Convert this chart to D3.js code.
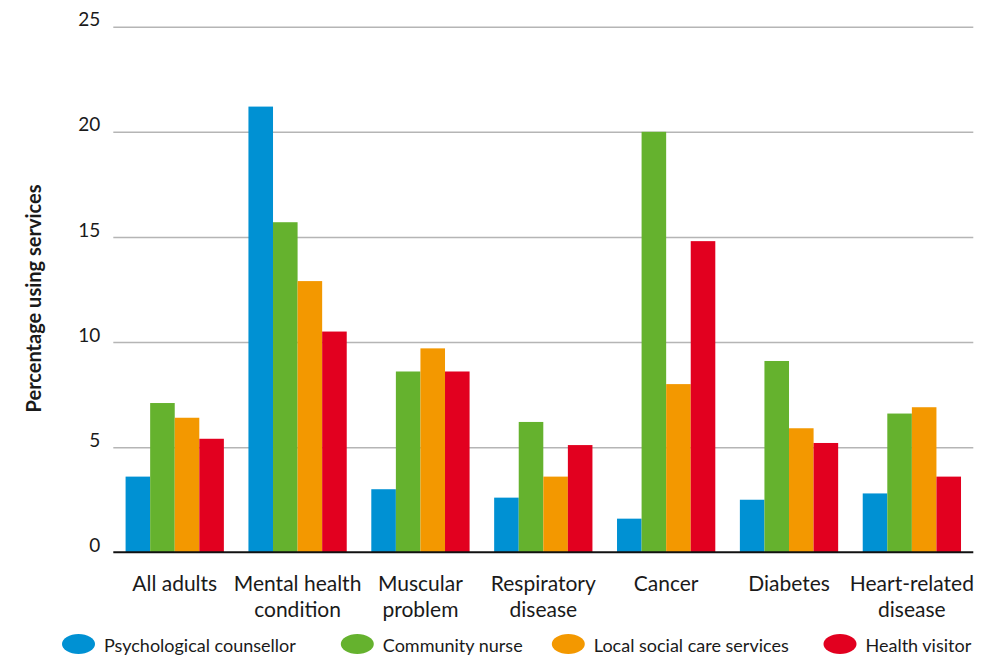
<!DOCTYPE html>
<html>
<head>
<meta charset="utf-8">
<script src="https://cdn.jsdelivr.net/npm/d3@7"></script>
<style>
  html, body { margin: 0; padding: 0; background: #ffffff; }
  svg { display: block; }
  text { font-family: Lato, "Open Sans", sans-serif; fill: #1a1a1a; }
</style>
</head>
<body>
<svg id="chart" width="993" height="655"></svg>
<script>
// Share of adults using each service, by health condition (%)
const categories = [
  ["All adults"],
  ["Mental health", "condition"],
  ["Muscular", "problem"],
  ["Respiratory", "disease"],
  ["Cancer"],
  ["Diabetes"],
  ["Heart-related", "disease"]
];
const seriesNames = ["Psychological counsellor", "Community nurse", "Local social care services", "Health visitor"];
const psychologicalCounsellor = [3.6, 21.2, 3.0, 2.6, 1.6, 2.5, 2.8];
const communityNurse          = [7.1, 15.7, 8.6, 6.2, 20.0, 9.1, 6.6];
const localSocialCare         = [6.4, 12.9, 9.7, 3.6, 8.0, 5.9, 6.9];
const healthVisitor           = [5.4, 10.5, 8.6, 5.1, 14.8, 5.2, 3.6];
const yTicks = [0, 5, 10, 15, 20, 25];
const colors = ["#0091d3", "#65b22e", "#f39800", "#e2001f"];

const series = [psychologicalCounsellor, communityNurse, localSocialCare, healthVisitor];

const svg = d3.select("#chart");
const margin = { left: 113.3, right: 19.7, top: 26.7, bottom: 102.7 };
const W = 993, H = 655;

const x0 = d3.scaleBand()
  .domain(d3.range(categories.length))
  .range([margin.left, W - margin.right])
  .paddingInner(0.2)
  .paddingOuter(0.1);

const x1 = d3.scaleBand()
  .domain(d3.range(series.length))
  .range([0, x0.bandwidth()]);

const y = d3.scaleLinear()
  .domain([0, 25])
  .range([H - margin.bottom, margin.top]);

// horizontal gridlines
const yAxis = d3.axisLeft(y).tickValues(yTicks).tickSize(-(W - margin.left - margin.right)).tickPadding(13);
const gy = svg.append("g")
  .attr("transform", `translate(${margin.left},0)`)
  .call(yAxis);
gy.select(".domain").remove();
gy.selectAll(".tick line")
  .attr("stroke", d => d === 0 ? "none" : "#b5b5b5")
  .attr("stroke-width", 1.6);
gy.selectAll(".tick text")
  .attr("font-size", 19)
  .attr("fill", "#1a1a1a")
  .attr("dy", "-0.05em")
  .style("font-family", "Lato, sans-serif");

// bars
const groups = svg.append("g")
  .selectAll("g")
  .data(categories.map((c, i) => i))
  .join("g")
  .attr("transform", i => `translate(${x0(i)},0)`);

groups.selectAll("rect")
  .data(i => series.map((s, k) => ({ k, v: s[i] })))
  .join("rect")
  .attr("x", d => x1(d.k))
  .attr("width", x1.bandwidth())
  .attr("y", d => y(d.v))
  .attr("height", d => y(0) - y(d.v))
  .attr("fill", d => colors[d.k]);

// baseline
svg.append("line")
  .attr("x1", margin.left).attr("x2", W - margin.right)
  .attr("y1", y(0)).attr("y2", y(0))
  .attr("stroke", "#111").attr("stroke-width", 2);

// category labels
const xLabels = svg.append("g");
categories.forEach((lines, i) => {
  const t = xLabels.append("text")
    .attr("x", x0(i) + x0.bandwidth() / 2)
    .attr("y", 591)
    .attr("text-anchor", "middle")
    .attr("font-size", 21);
  lines.forEach((ln, j) => {
    t.append("tspan")
      .attr("x", x0(i) + x0.bandwidth() / 2)
      .attr("dy", j === 0 ? 0 : 26)
      .text(ln);
  });
});

// y axis title
svg.append("text")
  .attr("transform", `translate(41,${298.5}) rotate(-90)`)
  .attr("text-anchor", "middle")
  .attr("font-size", 20)
  .attr("font-weight", "bold")
  .text("Percentage using services");

// legend
const legendX = [78.5, 357.3, 568.3, 840];
const legend = svg.append("g");
seriesNames.forEach((name, k) => {
  legend.append("ellipse")
    .attr("cx", legendX[k]).attr("cy", 644)
    .attr("rx", 16.5).attr("ry", 10)
    .attr("fill", colors[k]);
  legend.append("text")
    .attr("x", legendX[k] + 25.5)
    .attr("y", 651.5)
    .attr("font-size", 18)
    .text(name);
});
</script>
</body>
</html>
